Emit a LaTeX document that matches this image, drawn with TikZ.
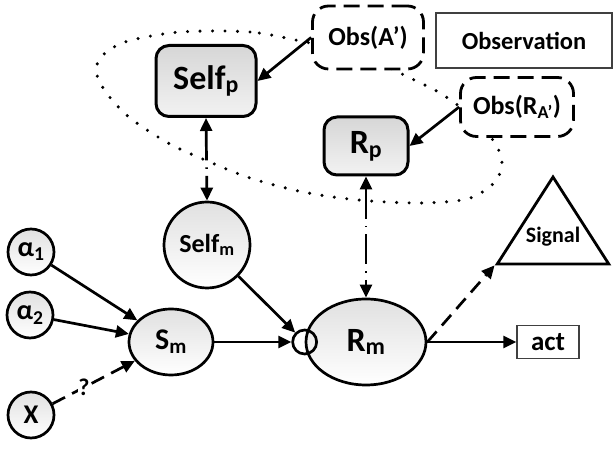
\documentclass[tikz,border=0pt]{standalone}
\usepackage{fontspec}
\setmainfont{Carlito}
\usetikzlibrary{shapes}
\usetikzlibrary{arrows.meta}
\usetikzlibrary{calc}
\usetikzlibrary{positioning}

\begin{document}
\begin{tikzpicture}[
		x=1pt,
		y=1pt,
		line width=2.7pt,
		>={Triangle[length=13pt,width=12pt]},
	]
		\tikzset{pbox/.style={
			draw,
			rectangle,
			rounded corners=13,
			line width=3pt,
			top color=black!16,
			bottom color=black!5,
			font=\fontsize{34pt}{36pt}\selectfont\bfseries,
		}}
		\tikzset{obsbox/.style={
			draw,
			rectangle,
			fill=white,
			rounded corners=16,
			line width=2.8pt,
			dash pattern=on 16pt off 8pt,
			font=\fontsize{26pt}{28pt}\selectfont\bfseries,
		}}
		\tikzset{mnode/.style={
			draw,
			inner sep=1,
			top color=black!12,
			bottom color=white,
		}}
		\tikzset{plainbox/.style={
			draw=black!75,
			rectangle,
			line width=1.2pt,
		}}
		\tikzset{dashdot/.style={dash pattern=on 30pt off 7pt on 1.5pt off 7pt}}
		\tikzset{loopline/.style={line width=3.4pt, line cap=round, dash pattern=on 0pt off 12.5pt}}

		\useasboundingbox (0,0) rectangle (613,449);

		% dotted loop round the perceived part
		\draw[loopline] plot[smooth cycle] coordinates {
			(305,407) (250,417) (180,417) (125,407) (100,391) (97,374)
			(108,354) (130,331) (168,306) (205,289) (250,271) (303,257)
			(358,249) (420,246) (467,250) (493,265) (502,284) (495,306)
			(470,334) (440,356) (408,372) (360,395)
		};

		\node[pbox, minimum width=100, minimum height=71] (selfp) at (206,368) {Self\textsubscript{p}};
		\node[pbox, minimum width=84, minimum height=58] (rp) at (366,303) {R\textsubscript{p}};
		\node[obsbox, minimum width=111, minimum height=63] (obsa) at (368,411.5) {Obs(A’)};
		\node[obsbox, minimum width=113, minimum height=59] (obsra) at (517,342) {Obs(R\textsubscript{A’})};
		\node[
			plainbox,
			minimum width=176,
			minimum height=55,
			font=\fontsize{24.5pt}{26pt}\selectfont\bfseries,
		] (legend) at (524,408.5) {Observation};

		\node[
			mnode,
			circle,
			minimum size=86,
			font=\fontsize{26pt}{28pt}\selectfont\bfseries,
		] (selfm) at (207,204) {Self\textsubscript{m}};
		\node[
			mnode,
			circle,
			minimum size=46,
			font=\fontsize{28pt}{30pt}\selectfont\bfseries,
		] (alpha1) at (31,197) {α\textsubscript{1}};
		\node[
			mnode,
			circle,
			minimum size=46,
			font=\fontsize{28pt}{30pt}\selectfont\bfseries,
		] (alpha2) at (30,134) {α\textsubscript{2}};
		\node[
			mnode,
			circle,
			minimum size=46,
			font=\fontsize{27pt}{29pt}\selectfont\bfseries,
		] (xin) at (31,34) {X};
		\node[
			mnode,
			ellipse,
			minimum width=84,
			minimum height=66,
			font=\fontsize{30pt}{32pt}\selectfont\bfseries,
		] (sm) at (171,107) {S\textsubscript{m}};
		\node[
			mnode,
			ellipse,
			minimum width=120,
			minimum height=86,
			font=\fontsize{34pt}{36pt}\selectfont\bfseries,
		] (rm) at (366,107) {R\textsubscript{m}};
		\node[draw, circle, inner sep=0, minimum size=24] (ring) at (rm.west) {};
		\node[
			plainbox,
			minimum width=62,
			minimum height=33,
			font=\fontsize{27pt}{29pt}\selectfont\bfseries,
		] (act) at (548,107) {act};
		\node[
			draw,
			regular polygon,
			regular polygon sides=3,
			inner sep=0,
			minimum size=116,
			xscale=1.11,
			line width=2.8pt,
		] (signal) at (553,214) {};
		\node[font=\fontsize{22pt}{24pt}\selectfont\bfseries] (signaltext) at (553,212) {Signal};

		\draw[->] (obsa.west) -- (selfp.east);
		\draw[->] (obsra.west) -- (rp.east);
		\draw[<->, dashdot] (selfp.south) -- (selfm.north);
		\draw[<->, dashdot] (rp.south) -- (rm.north);

		\draw[->] (alpha1) -- (sm);
		\draw[->] (alpha2) -- (sm);
		\draw[->, dash pattern=on 14pt off 8pt] (xin) -- (sm)
			node[pos=0.38, fill=white, font=\fontsize{24pt}{26pt}\selectfont\bfseries, inner sep=0] (qmark) {?};
		\draw[->] (sm) -- (ring);
		\draw[->] (selfm) -- (ring);
		\draw[->] (rm) -- (act);
		\draw[->, dash pattern=on 14pt off 8pt] (rm.east) -- (signal.corner 2);
	\end{tikzpicture}
\end{document}
